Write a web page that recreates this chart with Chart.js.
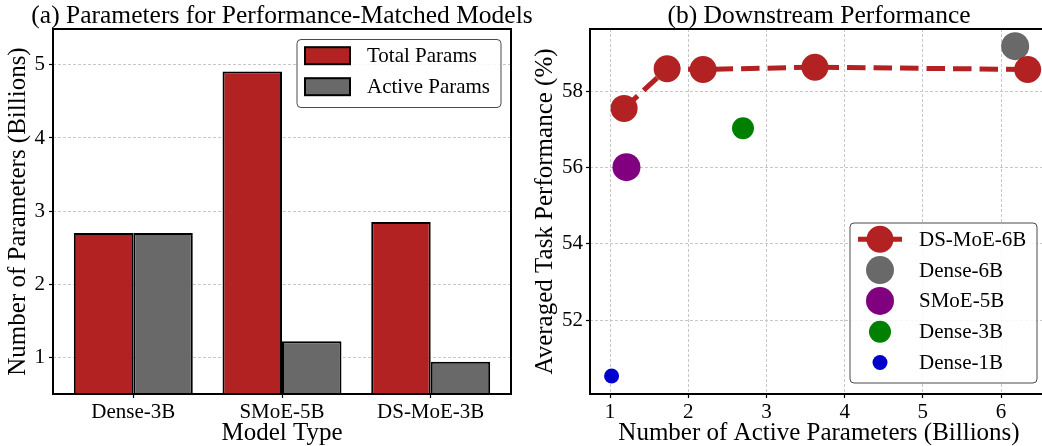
<!DOCTYPE html>
<html><head><meta charset="utf-8">
<script src="https://cdn.jsdelivr.net/npm/chart.js@4/dist/chart.umd.min.js"></script>
<style>
html,body{margin:0;padding:0;background:#fff;overflow:hidden;width:1042px;height:446px;}
canvas{position:absolute;top:0;}
#c1{left:0;}
#c2{left:520px;}
</style></head><body>
<canvas id="c1" width="560" height="446" style="width:560px;height:446px"></canvas>
<canvas id="c2" width="530" height="446" style="width:530px;height:446px"></canvas>
<script>
// ---- data: panel (a)
const titleA = '(a) Parameters for Performance-Matched Models';
const categories = ['Dense-3B', 'SMoE-5B', 'DS-MoE-3B'];
const totalParams = [2.70, 4.91, 2.85];
const activeParams = [2.70, 1.22, 0.94];
const leftYTicks = [1, 2, 3, 4, 5];

// ---- data: panel (b)
const titleB = '(b) Downstream Performance';
const dsmoeLabel = 'DS-MoE-6B';
const dsmoeActive = [1.18, 1.73, 2.19, 3.62, 6.34];
const dsmoePerf = [57.55, 58.59, 58.57, 58.63, 58.57];
const baselineNames = ['Dense-6B', 'SMoE-5B', 'Dense-3B', 'Dense-1B'];
const baselineActive = [6.18, 1.21, 2.70, 1.02];
const baselinePerf = [59.18, 56.01, 57.03, 50.54];
const rightXTicks = [1, 2, 3, 4, 5, 6];
const rightYTicks = [52, 54, 56, 58];

// ---- styles
const SERIF = "'Liberation Serif','Times New Roman',serif";
const RED = '#b22222';
const GRAY = '#696969';
const baselineColors = ['#696969', '#800080', '#008000', '#0000cd'];
const baselineRadius = [14, 14, 11, 7.5];
const GRID = '#c8c8c8';

Chart.defaults.font.family = SERIF;
Chart.defaults.color = '#000';

const framePlugin = {
  id: 'frame',
  afterDatasetsDraw(chart) {
    const {ctx, chartArea: a} = chart;
    ctx.save();
    ctx.strokeStyle = '#000';
    ctx.lineWidth = 2;
    ctx.strokeRect(a.left, a.top, a.right - a.left, a.bottom - a.top);
    ctx.restore();
  }
};

const titlePlugin = {
  id: 'panelTitle',
  afterDraw(chart, args, o) {
    const {ctx, chartArea: a} = chart;
    ctx.save();
    ctx.font = o.size + 'px ' + SERIF;
    ctx.fillStyle = '#000';
    ctx.textAlign = 'center';
    ctx.textBaseline = 'alphabetic';
    ctx.fillText(o.text, (a.left + a.right) / 2, o.baseline);
    ctx.restore();
  }
};

function roundRect(ctx, x, y, w, h, r) {
  ctx.beginPath();
  ctx.moveTo(x + r, y);
  ctx.lineTo(x + w - r, y);
  ctx.arcTo(x + w, y, x + w, y + r, r);
  ctx.lineTo(x + w, y + h - r);
  ctx.arcTo(x + w, y + h, x + w - r, y + h, r);
  ctx.lineTo(x + r, y + h);
  ctx.arcTo(x, y + h, x, y + h - r, r);
  ctx.lineTo(x, y + r);
  ctx.arcTo(x, y, x + r, y, r);
  ctx.closePath();
}

const legendPlugin = {
  id: 'boxLegend',
  afterDraw(chart, args, o) {
    const {ctx, chartArea: a} = chart;
    const x = a.right - o.rightInset - o.w;
    const y = o.topInset != null ? a.top + o.topInset : a.bottom - o.bottomInset - o.h;
    ctx.save();
    roundRect(ctx, x, y, o.w, o.h, 4);
    ctx.fillStyle = 'rgba(255,255,255,0.85)';
    ctx.fill();
    ctx.strokeStyle = '#4a4a4a';
    ctx.lineWidth = 1;
    ctx.stroke();
    ctx.font = o.fontSize + 'px ' + SERIF;
    ctx.textBaseline = 'middle';
    ctx.textAlign = 'left';
    chart.data.datasets.forEach((ds, i) => {
      const cy = y + o.firstRow + i * o.rowGap;
      if (o.kind === 'patch') {
        ctx.fillStyle = ds.backgroundColor;
        ctx.fillRect(x + o.markX, cy - o.patchH / 2, o.patchW, o.patchH);
        ctx.strokeStyle = '#000';
        ctx.lineWidth = 2;
        ctx.strokeRect(x + o.markX, cy - o.patchH / 2, o.patchW, o.patchH);
      } else {
        if (ds.showLine) {
          ctx.strokeStyle = ds.borderColor;
          ctx.lineWidth = ds.borderWidth;
          ctx.beginPath();
          ctx.moveTo(x + o.lineX0, cy);
          ctx.lineTo(x + o.lineX1, cy);
          ctx.stroke();
        }
        ctx.fillStyle = ds.pointBackgroundColor;
        ctx.beginPath();
        ctx.arc(x + o.markX, cy, ds.pointRadius, 0, Math.PI * 2);
        ctx.fill();
      }
      ctx.fillStyle = '#000';
      ctx.fillText(ds.label, x + o.textX, cy + 1);
    });
    ctx.restore();
  }
};

function noPad(s) { s.paddingLeft = 0; s.paddingRight = 0; }

// ---------- panel (a)
new Chart(document.getElementById('c1'), {
  type: 'bar',
  data: {
    datasets: [
      {label: 'Total Params', data: categories.map((c, i) => ({x: i, y: totalParams[i]})),
       backgroundColor: RED, borderColor: '#000', borderWidth: 2, borderSkipped: false,
       categoryPercentage: 0.8, barPercentage: 1},
      {label: 'Active Params', data: categories.map((c, i) => ({x: i, y: activeParams[i]})),
       backgroundColor: GRAY, borderColor: '#000', borderWidth: 2, borderSkipped: false,
       categoryPercentage: 0.8, barPercentage: 1}
    ]
  },
  options: {
    responsive: false, animation: false, events: [],
    layout: {autoPadding: false, padding: {left: 0, right: 49, top: 29, bottom: 0}},
    plugins: {
      legend: {display: false}, tooltip: {enabled: false}, title: {display: false},
      panelTitle: {text: titleA, size: 25.5, baseline: 22.7},
      boxLegend: {kind: 'patch', rightInset: 10, topInset: 10.5, w: 204, h: 68, firstRow: 16.2, rowGap: 31,
        markX: 8, patchW: 45, patchH: 17, textX: 70, fontSize: 21}
    },
    scales: {
      x: {
        type: 'linear', min: -0.54, max: 2.54, offset: false,
        afterBuildTicks: s => { s.ticks = categories.map((c, i) => ({value: i})); },
        afterFit: s => { s.height = 52; noPad(s); },
        ticks: {callback: v => categories[v], font: {size: 21}, color: '#000', padding: 2, maxRotation: 0, autoSkip: false},
        grid: {offset: false, drawOnChartArea: false, drawTicks: true, tickLength: 4, tickColor: '#000', tickWidth: 1.2},
        border: {display: false},
        title: {display: true, text: 'Model Type', font: {size: 25, lineHeight: 1}, padding: {top: 0, bottom: 0}, color: '#000'}
      },
      y: {
        min: 0.5, max: 5.49,
        afterBuildTicks: s => { s.ticks = leftYTicks.map(v => ({value: v})); },
        afterFit: s => { s.width = 53; },
        ticks: {font: {size: 21}, color: '#000', padding: 4},
        grid: {color: GRID, lineWidth: 1, tickColor: '#000', tickLength: 4, tickWidth: 1.2, tickBorderDash: []},
        border: {display: false, dash: [3, 2]},
        title: {display: true, text: 'Number of Parameters (Billions)', font: {size: 25, lineHeight: 1.2}, padding: {top: 3.6, bottom: 0}, color: '#000'}
      }
    }
  },
  plugins: [framePlugin, legendPlugin, titlePlugin]
});

// ---------- panel (b)
const rightDatasets = [{
  label: dsmoeLabel,
  data: dsmoeActive.map((x, i) => ({x: x, y: dsmoePerf[i]})),
  showLine: true, borderColor: RED, borderWidth: 5, borderDash: [18.5, 8],
  backgroundColor: RED, pointBackgroundColor: RED, pointRadius: 13.5, pointBorderWidth: 0, clip: false
}].concat(baselineNames.map((n, i) => ({
  label: n,
  data: [{x: baselineActive[i], y: baselinePerf[i]}],
  showLine: false, backgroundColor: baselineColors[i], pointBackgroundColor: baselineColors[i],
  pointRadius: baselineRadius[i], pointBorderWidth: 0, borderWidth: 0, clip: false
})));

new Chart(document.getElementById('c2'), {
  type: 'scatter',
  data: {datasets: rightDatasets},
  options: {
    responsive: false, animation: false, events: [],
    layout: {autoPadding: false, padding: {left: 0, right: 2, top: 29, bottom: 0}},
    plugins: {
      legend: {display: false}, tooltip: {enabled: false}, title: {display: false},
      panelTitle: {text: titleB, size: 25.5, baseline: 22.7},
      boxLegend: {kind: 'marker', rightInset: 11, bottomInset: 11, w: 187, h: 160, firstRow: 16.3, rowGap: 30.8,
        markX: 30, lineX0: 8, lineX1: 52, textX: 69, fontSize: 21}
    },
    scales: {
      x: {
        type: 'linear', min: 0.744, max: 6.6,
        afterBuildTicks: s => { s.ticks = rightXTicks.map(v => ({value: v})); },
        afterFit: s => { s.height = 52; noPad(s); },
        ticks: {font: {size: 21}, color: '#000', padding: 2, maxRotation: 0},
        grid: {color: GRID, lineWidth: 1, tickColor: '#000', tickLength: 4, tickWidth: 1.2, tickBorderDash: []},
        border: {display: false, dash: [3, 2]},
        title: {display: true, text: 'Number of Active Parameters (Billions)', font: {size: 25, lineHeight: 1}, padding: {top: 0, bottom: 0}, color: '#000'}
      },
      y: {
        min: 50.07, max: 59.63,
        afterBuildTicks: s => { s.ticks = rightYTicks.map(v => ({value: v})); },
        afterFit: s => { s.width = 70; },
        ticks: {font: {size: 21}, color: '#000', padding: 3},
        grid: {color: GRID, lineWidth: 1, tickColor: '#000', tickLength: 4, tickWidth: 1.2, tickBorderDash: []},
        border: {display: false, dash: [3, 2]},
        title: {display: true, text: 'Averaged Task Performance (%)', font: {size: 25, lineHeight: 1.2}, padding: {top: 10, bottom: 0}, color: '#000'}
      }
    }
  },
  plugins: [framePlugin, legendPlugin, titlePlugin]
});
</script>
</body></html>
